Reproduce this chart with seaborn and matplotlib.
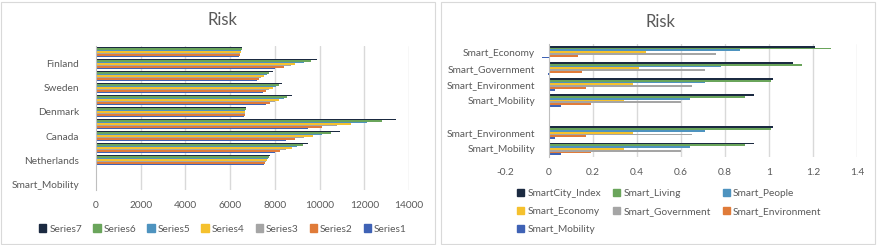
import numpy as np
import pandas as pd
import seaborn as sns
import matplotlib.pyplot as plt
from matplotlib.patches import Rectangle, Patch

# ---- left chart data (categories top to bottom) ----
left_labels = ["", "Finland", "", "Sweden", "", "Denmark", "", "Canada", "",
               "Netherlands", "", "Smart_Mobility"]
left_series = ["Series7", "Series6", "Series5", "Series4", "Series3", "Series2", "Series1"]
series7 = [6550, 9900, 7900, 8300, 8750, 6700, 13400, 10900, 9500, 7800, np.nan, 0.93]
series6 = [6520, 9600, 7750, 8200, 8550, 6700, 12800, 10500, 9250, 7750, np.nan, 0.89]
series5 = [6500, 9300, 7650, 8050, 8400, 6680, 12100, 10100, 9000, 7700, np.nan, 0.64]
series4 = [6480, 8900, 7500, 7900, 8200, 6680, 11400, 9700, 8750, 7650, np.nan, 0.34]
series3 = [6450, 8700, 7400, 7750, 8000, 6650, 10800, 9300, 8500, 7600, np.nan, 0.60]
series2 = [6420, 8400, 7300, 7600, 7800, 6650, 10100, 8900, 8250, 7550, np.nan, 0.19]
series1 = [6380, 8000, 7200, 7450, 7600, 6600, 9500, 8500, 8000, 7500, np.nan, 0.05]
left_ticks = [0, 2000, 4000, 6000, 8000, 10000, 12000, 14000]

# ---- right chart data (categories top to bottom) ----
right_labels = ["Smart_Economy", "Smart_Government", "Smart_Environment", "Smart_Mobility",
                "", "Smart_Environment", "Smart_Mobility"]
right_series = ["SmartCity_Index", "Smart_Living", "Smart_People", "Smart_Economy",
                "Smart_Government", "Smart_Environment", "Smart_Mobility"]
smartcity_index = [1.21, 1.11, 1.02, 0.93, np.nan, 1.02, 0.93]
smart_living = [1.28, 1.15, 1.01, 0.89, np.nan, 1.01, 0.89]
smart_people = [0.87, 0.78, 0.71, 0.64, np.nan, 0.71, 0.64]
smart_economy = [0.44, 0.41, 0.38, 0.34, np.nan, 0.38, 0.34]
smart_government = [0.76, 0.71, 0.65, 0.60, np.nan, 0.65, 0.60]
smart_environment = [0.13, 0.15, 0.17, 0.19, np.nan, 0.17, 0.19]
smart_mobility = [-0.03, -0.005, 0.025, 0.055, np.nan, 0.025, 0.055]
right_ticks = [-0.2, 0, 0.2, 0.4, 0.6, 0.8, 1, 1.2, 1.4]

colors = ["#1b2a41", "#6aa55b", "#4e93bf", "#f5c12e", "#a5a5a5", "#e07b39", "#3f62b5"]
text_col = "#595959"
grid_col = "#d9d9d9"
fs = 7.3


def long_frame(series_names, series_values):
    rows = []
    for name, vals in zip(series_names, series_values):
        for i, v in enumerate(vals):
            if not np.isnan(v):
                rows.append({"cat": str(i), "series": name, "value": v})
    return pd.DataFrame(rows)


sns.set_style("white")
plt.rcParams["font.family"] = ["Lato", "DejaVu Sans"]
plt.rcParams["font.size"] = fs

W, H = 877, 245
fig = plt.figure(figsize=(W / 100, H / 100), dpi=100)

# panel borders
fig.add_artist(Rectangle((1 / W, 1 / H), 434 / W, 242 / H, transform=fig.transFigure,
                         fill=False, edgecolor=grid_col, lw=0.8))
fig.add_artist(Rectangle((441 / W, 1 / H), 434 / W, 242 / H, transform=fig.transFigure,
                         fill=False, edgecolor=grid_col, lw=0.8))

# ---- left chart ----
df_left = long_frame(left_series, [series7, series6, series5, series4, series3, series2, series1])
axl = fig.add_axes([96 / W, (H - 190) / H, (409 - 96) / W, (190 - 46) / H])
sns.barplot(data=df_left, x="value", y="cat", hue="series",
            order=[str(i) for i in range(len(left_labels))], hue_order=left_series,
            palette=colors, orient="h", width=0.82, saturation=1, linewidth=0,
            legend=False, ax=axl)
axl.set_xlim(0, 14000)
axl.set_xticks(left_ticks)
axl.set_xticklabels([str(t) for t in left_ticks])
axl.set_yticks(range(len(left_labels)))
axl.set_yticklabels(left_labels)
for t in left_ticks[1:]:
    axl.axvline(t, color=grid_col, lw=1, zorder=0)
axl.set_xlabel("")
axl.set_ylabel("")
for s in ["top", "right", "bottom"]:
    axl.spines[s].set_visible(False)
axl.spines["left"].set_color("#bfbfbf")
axl.tick_params(axis="both", length=0, colors=text_col, labelsize=fs)
axl.tick_params(axis="y", pad=12)
axl.tick_params(axis="x", pad=8)
fig.text(222 / W, 1 - 20 / H, "Risk", ha="center", va="center", fontsize=12, color=text_col)
handles = [Patch(color=c, label=n) for c, n in zip(colors, left_series)]
fig.legend(handles=handles, loc="center", bbox_to_anchor=(223 / W, 1 - 229 / H), ncol=7,
           frameon=False, fontsize=fs, handlelength=0.7, handleheight=0.7,
           handletextpad=0.3, columnspacing=1.1, labelcolor=text_col)

# ---- right chart ----
df_right = long_frame(right_series, [smartcity_index, smart_living, smart_people, smart_economy,
                                     smart_government, smart_environment, smart_mobility])
axr = fig.add_axes([505 / W, (H - 157) / H, (857 - 505) / W, (157 - 44) / H])
sns.barplot(data=df_right, x="value", y="cat", hue="series",
            order=[str(i) for i in range(len(right_labels))], hue_order=right_series,
            palette=colors, orient="h", width=0.78, saturation=1, linewidth=0,
            legend=False, ax=axr)
axr.set_xlim(-0.2, 1.4)
axr.set_xticks(right_ticks)
axr.set_xticklabels([f"{t:g}" for t in right_ticks])
axr.set_yticks(range(len(right_labels)))
axr.set_yticklabels(right_labels)
for t in right_ticks[2:]:
    axr.axvline(t, color=grid_col, lw=1, zorder=0)
axr.set_xlabel("")
axr.set_ylabel("")
for s in ["top", "right", "bottom"]:
    axr.spines[s].set_visible(False)
axr.spines["left"].set_position(("data", 0))
axr.spines["left"].set_color("#bfbfbf")
axr.tick_params(axis="both", length=0, colors=text_col, labelsize=fs)
axr.tick_params(axis="y", pad=10)
axr.tick_params(axis="x", pad=8)
fig.text(660 / W, 1 - 22 / H, "Risk", ha="center", va="center", fontsize=12, color=text_col)
rh = [Patch(color=c, label=n) for c, n in zip(colors, right_series)]
order = [0, 3, 6, 1, 4, 2, 5]
fig.legend(handles=[rh[i] for i in order], loc="upper left",
           bbox_to_anchor=(508 / W, 1 - 180 / H), ncol=3, frameon=False, fontsize=fs,
           handlelength=0.7, handleheight=0.7, handletextpad=0.3, columnspacing=1.2,
           labelspacing=0.85, labelcolor=text_col)

fig.savefig("out.png", dpi=100)
